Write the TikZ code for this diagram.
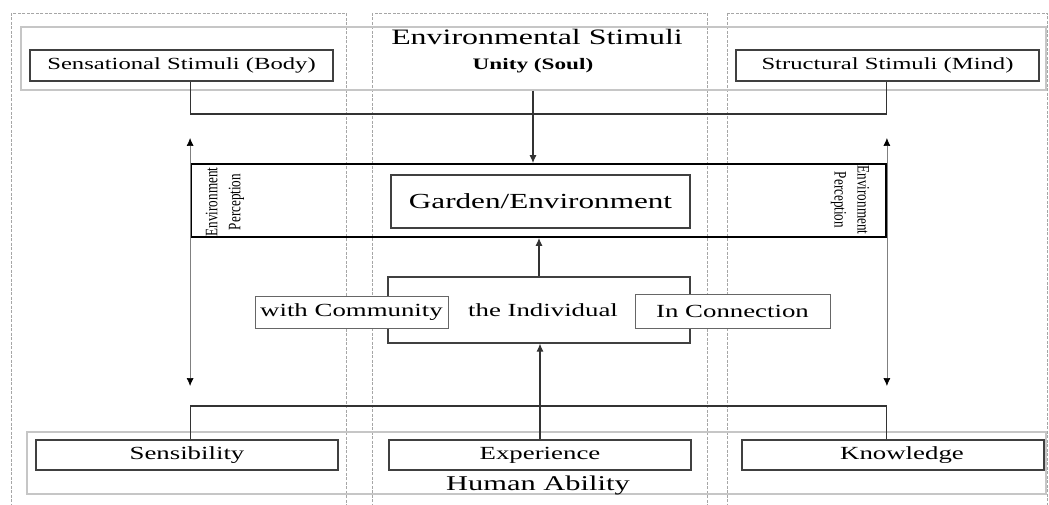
\documentclass[tikz,border=0pt]{standalone}
\usepackage{fontspec}
\setmainfont[FakeStretch=1.45]{Liberation Serif}
\newfontfamily\thinfont[FakeStretch=0.75]{Liberation Serif}
\usetikzlibrary{arrows.meta}

\begin{document}
\begin{tikzpicture}[x=1pt, y=-1pt, >={Latex[length=8pt,width=7pt]}]
\tikzstyle{every node}=[inner sep=0pt, font=\fontsize{18.5}{22}\selectfont]
\tikzstyle{box}=[draw=black!75, line width=1.1pt, rectangle, minimum height=31pt]
\tikzstyle{band}=[draw=gray!45, line width=1.5pt, rectangle]
\tikzstyle{column}=[draw=gray!70, line width=0.8pt, dash pattern=on 3pt off 1.5pt]
\tikzstyle{link}=[draw=black!80, line width=1.1pt]
\tikzstyle{dbl}=[draw=gray, line width=0.6pt, {Latex[length=8pt,width=7pt,black]}-{Latex[length=8pt,width=7pt,black]}]
\tikzstyle{percept}=[align=center, font=\thinfont\fontsize{17.5}{23}\selectfont]
\useasboundingbox (0,0) rectangle (1049,505);
\clip (0,0) rectangle (1049,505);
   \draw[column] (11,13) rectangle (346,520);
   \draw[column] (372,13) rectangle (707,520);
   \draw[column] (727,13) rectangle (1047,520);
   \node[band, minimum width=1025pt, minimum height=63pt](top) at (533.5,58.5){};
   \node[box, minimum width=303pt, font=\fontsize{17}{20}\selectfont](sens) at (181.5,65.5){Sensational Stimuli (Body)};
   \node[box, minimum width=303pt, font=\fontsize{17}{20}\selectfont](struct) at (887.5,65.5){Structural Stimuli (Mind)};
   \node[font=\fontsize{22}{26}\selectfont](envtitle) at (537,37){Environmental Stimuli};
   \node[font=\fontsize{16}{19}\selectfont\bfseries](unity) at (533,66){Unity (Soul)};
   \node[box, draw=black, line width=1.8pt, minimum width=695pt, minimum height=73pt](garden) at (538.5,200.5){};
   \node[box, minimum width=299pt, minimum height=53pt, font=\fontsize{21.5}{25}\selectfont](gardenlbl) at (540.5,201.5){Garden/Environment};
   \node[percept, rotate=90](perceptL) at (225,202){Environment\\Perception};
   \node[percept, rotate=-90](perceptR) at (850,200){Environment\\Perception};
   \node[box, minimum width=302pt, minimum height=66pt](indiv) at (539,310){\hspace{8pt}the Individual};
   \node[box, draw=black!60, line width=0.8pt, fill=white, minimum width=193pt, minimum height=32pt](commun) at (351.5,312){with Community};
   \node[box, draw=black!60, line width=0.8pt, fill=white, minimum width=195pt, minimum height=34pt](connect) at (732.5,311){In Connection};
   \node[band, minimum width=1019pt, minimum height=62pt](bottom) at (536.5,463){};
   \node[box, minimum width=302pt, minimum height=30pt](sensib) at (187,455){Sensibility\hspace{50pt}};
   \node[box, minimum width=302pt, minimum height=30pt](exper) at (540,455){Experience};
   \node[box, minimum width=302pt, minimum height=30pt](knowl) at (893,455){\hspace{18pt}Knowledge};
   \node[font=\fontsize{21}{25}\selectfont](ability) at (538,485){Human Ability};
   \coordinate (tjoin) at (537,114);
   \coordinate (bjoin) at (540,406);
   \coordinate (arrtop) at (0,138);
   \coordinate (arrbot) at (0,386);
   \draw[link] (sens.south -| garden.west) |- (tjoin) -| (struct.south -| garden.east);
   \draw[link,->] (top.south -| unity) -- (garden.north -| unity);
   \draw[link,->] (indiv.north) -- (indiv.north |- garden.south);
   \draw[link,->] (exper.north) -- (exper.north |- indiv.south);
   \draw[link] (sensib.north -| garden.west) |- (bjoin) -| (knowl.north -| garden.east);
   \draw[dbl] (garden.west |- arrtop) -- (garden.west |- arrbot);
   \draw[dbl] (garden.east |- arrtop) -- (garden.east |- arrbot);
\end{tikzpicture}
\end{document}
